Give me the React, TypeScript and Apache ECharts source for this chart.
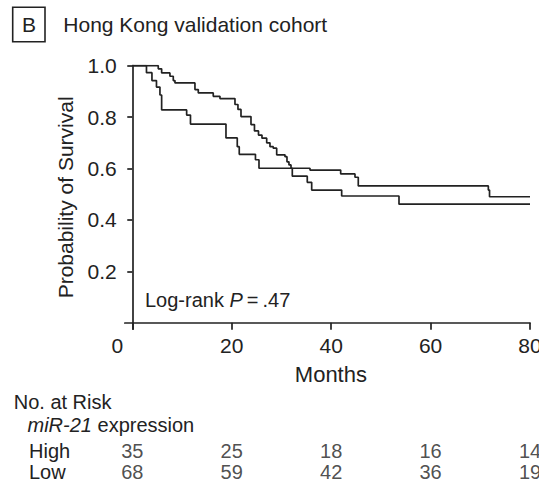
import React, { useEffect, useRef } from "react";
import * as echarts from "echarts";

const FONT = "Liberation Sans";
const INK = "#222";

const monthTicks = [0, 20, 40, 60, 80];
const probTicks = [0.2, 0.4, 0.6, 0.8, 1.0];

// Kaplan-Meier steps [month, survival]
const highCurve: [number, number][] = [
  [0, 1.0], [2.86, 0.973], [3.96, 0.942], [4.87, 0.917], [5.57, 0.886], [5.91, 0.828],
  [10.94, 0.808], [11.71, 0.773], [18.85, 0.719], [21.12, 0.685], [21.52, 0.655],
  [24.78, 0.634], [25.49, 0.601], [32.19, 0.57], [35.2, 0.546], [36.09, 0.516],
  [42.12, 0.493], [53.65, 0.461], [80, 0.461],
];
const lowCurve: [number, number][] = [
  [0, 1.0], [5.23, 0.988], [5.91, 0.972], [7.58, 0.959], [8.25, 0.942], [8.59, 0.933],
  [12.61, 0.907], [13.28, 0.894], [16.29, 0.881], [17.64, 0.872], [20.66, 0.849],
  [21.26, 0.83], [21.87, 0.802], [23.88, 0.771], [24.58, 0.746], [25.39, 0.73],
  [26.09, 0.718], [27.04, 0.7], [27.7, 0.685], [28.36, 0.679], [29.05, 0.653],
  [30.72, 0.646], [31.12, 0.626], [31.52, 0.614], [31.93, 0.601], [35.75, 0.594],
  [41.92, 0.579], [44.8, 0.566], [45.46, 0.532], [71.62, 0.516], [71.86, 0.49], [80, 0.49],
];

const riskGroups = ["High", "Low"];
const riskHigh = [35, 25, 18, 16, 14];
const riskLow = [68, 59, 42, 36, 19];

const titleLetter = "B";
const titleText = "Hong Kong validation cohort";
const pText = ".47";

export default function App() {
  const ref = useRef<HTMLDivElement>(null);
  useEffect(() => {
    const chart = echarts.init(ref.current!, null, { renderer: "svg" });
    const gridLeft = 124.8;
    const gridRight = 9;
    const riskData = (vals: number[], g: string) => vals.map((n, i) => [monthTicks[i], g, n]);
    const option: any = {
      animation: false,
      backgroundColor: "#fff",
      textStyle: { fontFamily: FONT, color: INK },
      grid: [
        { left: gridLeft, right: gridRight, top: 65.7, bottom: 158.9, containLabel: false, outerBoundsMode: "none" },
        { left: gridLeft, right: gridRight, top: 440, height: 42, containLabel: false, outerBoundsMode: "none" },
      ],
      xAxis: [
        {
          type: "value", gridIndex: 0, min: -1.5, max: 80,
          axisLine: { onZero: true, lineStyle: { color: INK, width: 1.7 } },
          axisTick: { customValues: monthTicks, length: 7, lineStyle: { color: INK, width: 1.7 } },
          axisLabel: {
            customValues: monthTicks, fontSize: 21, color: INK, margin: 6, fontFamily: FONT,
            formatter: (v: number) => (v === 0 ? "{z|0}" : String(v)),
            rich: { z: { padding: [0, 30, 0, 0], fontSize: 21, color: INK, fontFamily: FONT } },
          },
          splitLine: { show: false },
          name: "Months", nameLocation: "middle", nameGap: 34,
          nameTextStyle: { fontSize: 22, color: INK, fontFamily: FONT, padding: [0, 0, 0, 7] },
        },
        { type: "value", gridIndex: 1, min: -1.5, max: 80, show: false },
      ],
      yAxis: [
        {
          type: "value", gridIndex: 0, min: -0.025, max: 1,
          axisLine: { show: true, onZero: true, lineStyle: { color: INK, width: 1.7 } },
          axisTick: { show: true, customValues: probTicks, length: 5, lineStyle: { color: INK, width: 1.7 } },
          axisLabel: {
            customValues: probTicks, fontSize: 21, color: INK, margin: 8, fontFamily: FONT,
            formatter: (v: number) => v.toFixed(1),
          },
          splitLine: { show: false },
          name: "Probability of Survival", nameLocation: "middle", nameGap: 49, nameRotate: 90,
          nameTextStyle: { fontSize: 21, color: INK, fontFamily: FONT },
        },
        {
          type: "category", gridIndex: 1, data: riskGroups, inverse: true,
          axisLine: { show: false, onZero: false }, axisTick: { show: false },
          axisLabel: { interval: 0, align: "left", margin: gridLeft - 29, fontSize: 20, color: INK, fontFamily: FONT },
        },
      ],
      series: [
        {
          name: "High", type: "line", data: highCurve, step: "end", showSymbol: false, silent: true,
          lineStyle: { color: INK, width: 1.7 },
        },
        {
          name: "Low", type: "line", data: lowCurve, step: "end", showSymbol: false, silent: true,
          lineStyle: { color: INK, width: 1.7 },
        },
        {
          type: "scatter", xAxisIndex: 1, yAxisIndex: 1, symbolSize: 1, silent: true,
          itemStyle: { color: "rgba(0,0,0,0)" },
          data: [...riskData(riskHigh, riskGroups[0]), ...riskData(riskLow, riskGroups[1])],
          label: {
            show: true, position: "inside", fontSize: 20, color: INK, fontFamily: FONT,
            formatter: (p: any) => String(p.value[2]),
          },
        },
      ],
      graphic: [
        {
          type: "rect", shape: { x: 12.7, y: 7.3, width: 32.3, height: 34.4 },
          style: { fill: "none", stroke: INK, lineWidth: 1.6 },
        },
        {
          type: "text", x: 28.9, y: 24.5,
          style: { text: titleLetter, font: `21px '${FONT}'`, fill: INK, align: "center", verticalAlign: "middle" },
        },
        {
          type: "text", x: 63.3, y: 24.3,
          style: { text: titleText, font: `21px '${FONT}'`, fill: INK, align: "left", verticalAlign: "middle" },
        },
        {
          type: "text", x: 145, y: 300,
          style: {
            text: `{n|Log-rank }{i|P}{n|\u2009=\u2009${pText}}`, fill: INK, align: "left", verticalAlign: "middle",
            font: `20px '${FONT}'`,
            rich: {
              n: { fontSize: 20, fontFamily: FONT, fill: INK },
              i: { fontSize: 20, fontFamily: FONT, fontStyle: "italic", fill: INK },
            },
          },
        },
        {
          type: "text", x: 13.7, y: 402,
          style: { text: "No. at Risk", font: `20px '${FONT}'`, fill: INK, align: "left", verticalAlign: "middle" },
        },
        {
          type: "text", x: 27.5, y: 425,
          style: {
            text: "{i|miR-21}{n| expression}", fill: INK, align: "left", verticalAlign: "middle",
            font: `20px '${FONT}'`,
            rich: {
              n: { fontSize: 20, fontFamily: FONT, fill: INK },
              i: { fontSize: 20, fontFamily: FONT, fontStyle: "italic", fill: INK },
            },
          },
        },
      ],
    };
    chart.setOption(option);
    return () => chart.dispose();
  }, []);
  return (
    <div
      ref={ref}
      style={{ position: "fixed", left: 0, top: 0, width: 539, height: 488, background: "#fff" }}
    />
  );
}
